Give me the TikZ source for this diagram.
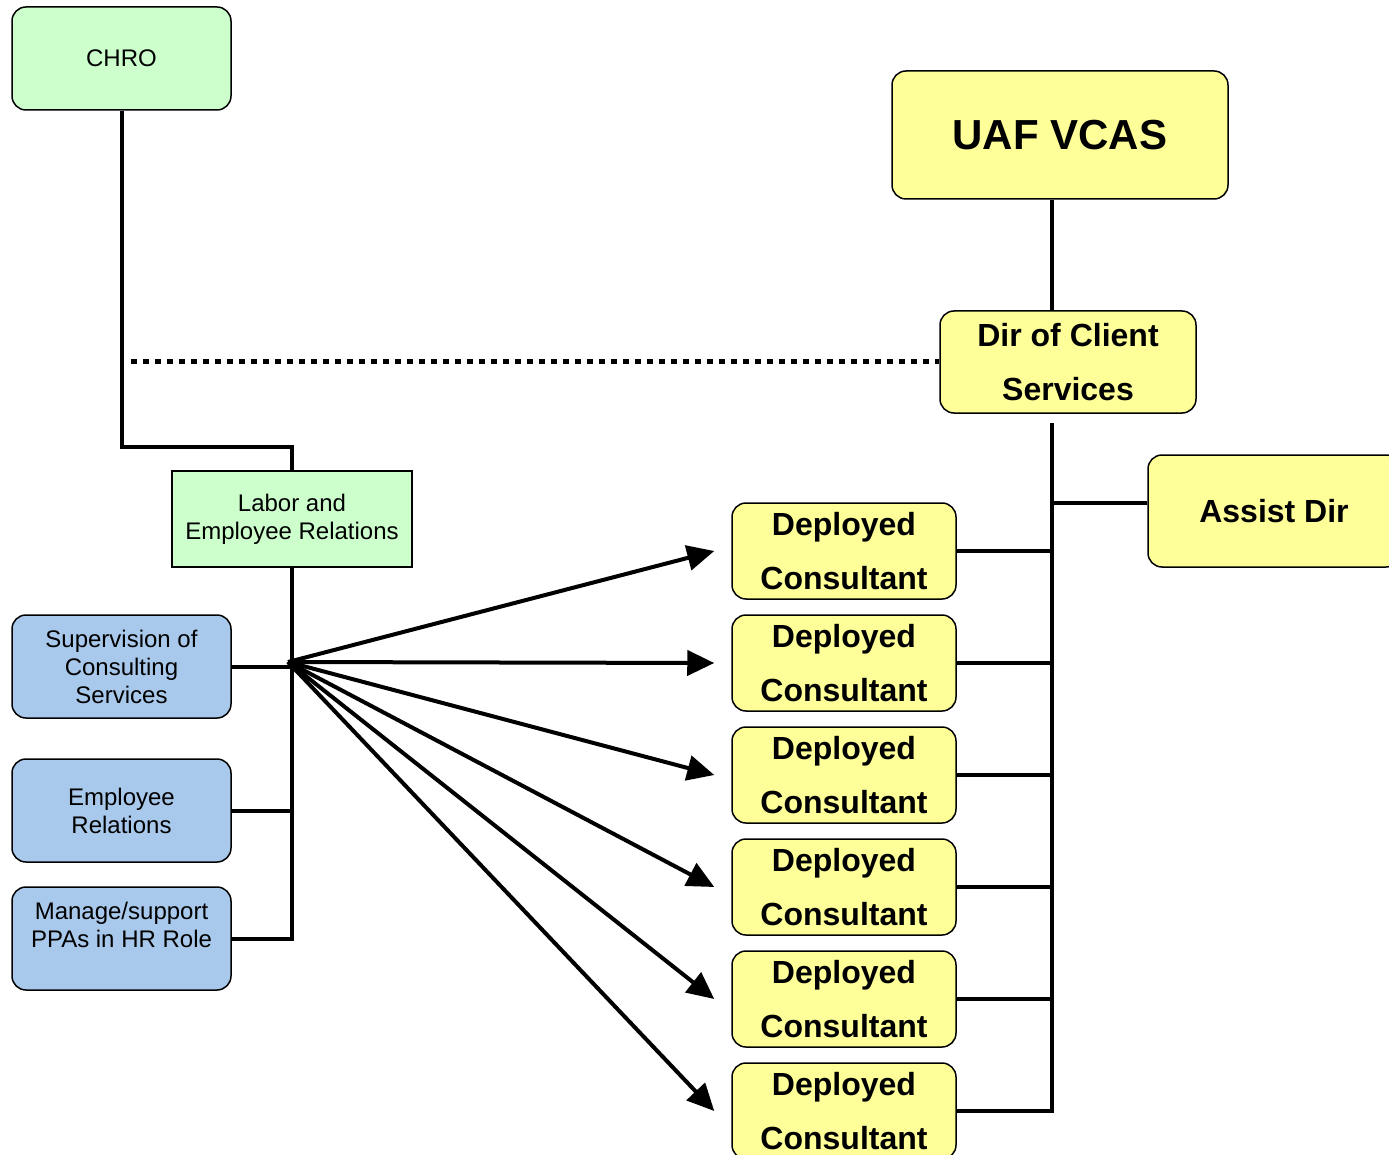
\documentclass[tikz,border=0pt]{standalone}
\usepackage{fontspec}
\setmainfont{Liberation Sans}
\usetikzlibrary{positioning,arrows.meta}
\definecolor{hrgreen}{HTML}{CCFFCC}
\definecolor{vcyellow}{HTML}{FFFF99}
\definecolor{unitblue}{HTML}{A9C9EC}

\begin{document}
\begin{tikzpicture}[
  x=1pt, y=-1pt,
  box/.style={draw, line width=1.5pt, align=center, inner sep=0pt},
  hrbox/.style={box, rounded corners=14pt, fill=hrgreen, minimum width=219pt, minimum height=103pt, font=\fontsize{24}{28}\selectfont},
  unitbox/.style={hrbox, fill=unitblue},
  vcbox/.style={box, rounded corners=14pt, fill=vcyellow, font=\fontsize{32}{54}\selectfont\bfseries},
  consultant/.style={vcbox, minimum width=224pt, minimum height=96pt},
  link/.style={line width=4pt},
  dotlink/.style={line width=5pt, dash pattern=on 6pt off 6pt},
  fan/.style={line width=4pt, -{Triangle[length=27pt,width=25pt]}},
  node distance=14.5pt
]
\useasboundingbox (0,0) rectangle (1389,1155);

% HR side
\node[hrbox] (chro) at (121.5,58.5) {CHRO};
\node[box, fill=hrgreen, minimum width=240pt, minimum height=96pt, font=\fontsize{24}{28}\selectfont] (labor) at (292,519) {Labor and\\Employee Relations};
\node[unitbox] (sup) at (121.5,666.5) {Supervision of\\Consulting\\Services};
\node[unitbox] (emp) at (121.5,810.5) {Employee\\Relations};
\node[unitbox] (mgr) at (121.5,938.5) {Manage/support\\PPAs in HR Role\\\mbox{}};

% VCAS side
\node[vcbox, minimum width=336pt, minimum height=128pt, font=\fontsize{42}{50}\selectfont\bfseries] (vcas) at (1060,135) {UAF VCAS};
\node[vcbox, minimum width=256pt, minimum height=102pt] (dir) at (1068,362) {Dir of Client\\Services};
\node[vcbox, minimum width=252pt, minimum height=112pt] (assist) at (1274,511) {Assist Dir};
\node[consultant] (c1) at (844,551) {Deployed\\Consultant};
\node[consultant, below=of c1] (c2) {Deployed\\Consultant};
\node[consultant, below=of c2] (c3) {Deployed\\Consultant};
\node[consultant, below=of c3] (c4) {Deployed\\Consultant};
\node[consultant, below=of c4] (c5) {Deployed\\Consultant};
\node[consultant, below=of c5] (c6) {Deployed\\Consultant};

\coordinate (hub) at (288,662);
\coordinate (spine) at (1052,423);

% HR lines
\draw[link] (chro.south) -- ++(0,336) -| (labor.north);
\draw[link] (labor.south) |- (mgr.east);
\draw[link] (sup.east) -- (sup.east -| labor.south);
\draw[link] (emp.east) -- (emp.east -| labor.south);
\draw[dotlink] ([xshift=9pt]chro.south |- dir.west) -- (dir.west);

% VCAS lines
\draw[link] (vcas.south -| spine) -- (dir.north -| spine);
\draw[link] (spine) |- (c6.east);
\draw[link] ([yshift=8pt]assist.west) -- ([yshift=8pt]assist.west -| spine);
\draw[link] (c1.east) -- (c1.east -| spine);
\draw[link] (c2.east) -- (c2.east -| spine);
\draw[link] (c3.east) -- (c3.east -| spine);
\draw[link] (c4.east) -- (c4.east -| spine);
\draw[link] (c5.east) -- (c5.east -| spine);

% consultants
\draw[fan] (hub) -- ([xshift=-17pt]c1.west);
\draw[fan] (hub) -- ([xshift=-17pt]c2.west);
\draw[fan] (hub) -- ([xshift=-17pt]c3.west);
\draw[fan] (hub) -- ([xshift=-17pt]c4.west);
\draw[fan] (hub) -- ([xshift=-17pt]c5.west);
\draw[fan] (hub) -- ([xshift=-17pt]c6.west);
\end{tikzpicture}
\end{document}
